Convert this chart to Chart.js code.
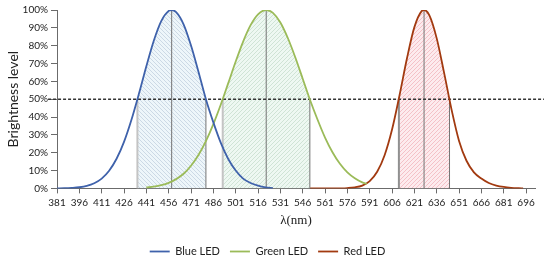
<!DOCTYPE html>
<html>
<head>
<meta charset="utf-8">
<script src="https://cdn.jsdelivr.net/npm/chart.js@4.4.1/dist/chart.umd.min.js"></script>
<style>
  html, body { margin: 0; padding: 0; background: #fff; }
</style>
</head>
<body>
<canvas id="chart" width="550" height="259"></canvas>
<script>
// wavelength tick labels (nm) and brightness ticks (%)
const xTicks = [381, 396, 411, 426, 441, 456, 471, 486, 501, 516, 531, 546, 561, 576, 591, 606, 621, 636, 651, 666, 681, 696];
const yTicks = [0, 10, 20, 30, 40, 50, 60, 70, 80, 90, 100];

// spectra
const blueNm = [381, 386, 391, 396, 401, 406, 411, 416, 421, 426, 431, 436, 441, 446, 451, 456, 458, 461, 466, 471, 476, 481, 486, 491, 496, 501, 506, 511, 516, 521, 526];
const blueVal = [0.05, 0.1, 0.3, 0.65, 1.4, 2.9, 5.5, 9.9, 16.6, 26.1, 38.5, 53, 68.5, 82.8, 93.8, 99.5, 100, 98.8, 92, 80.1, 65.4, 50, 37, 25.5, 16.5, 10, 5.5, 3, 1.5, 0.6, 0.2];

const greenNm = [441, 446, 451, 456, 461, 466, 471, 476, 481, 486, 491, 496, 501, 506, 511, 516, 521.5, 526, 531, 536, 541, 546, 551, 556, 561, 566, 571, 576, 581, 586, 589];
const greenVal = [0.5, 1, 1.8, 3.1, 5.2, 8.2, 12.7, 18.7, 26.5, 36, 47, 59, 71.1, 82.3, 91.5, 97.6, 100, 98.4, 93, 84.3, 73.5, 61.5, 49.4, 38.5, 28.5, 20.3, 13.8, 9, 5.7, 3.4, 2.6];

const redNm = [551, 556, 561, 566, 571, 576, 581, 586, 591, 596, 601, 606, 611, 616, 621, 626, 627.5, 631, 636, 641, 646, 651, 656, 661, 666, 671, 676, 681, 686, 691, 694];
const redVal = [0, 0, 0, 0, 0.05, 0.2, 0.6, 1.6, 4.1, 9.3, 18.6, 33, 52.1, 72.8, 90.4, 99.5, 100, 97.1, 84.1, 64.6, 44, 26.6, 15.5, 9, 5.5, 3, 1.6, 0.8, 0.35, 0.1, 0];

// half-maximum bounds and peaks (nm)
const blueMarks = [435, 458, 481];
const greenMarks = [492.3, 521.5, 550.8];
const redMarks = [610.6, 627.5, 644.6];
const halfLevel = 50;
const halfLineNm = [375, 708];

const ledNames = ['Blue LED', 'Green LED', 'Red LED'];
const ledColors = ['#3f62ab', '#9bbb59', '#a23a10'];

function hatch(bg, fg, up) {
  const c = document.createElement('canvas');
  c.width = c.height = 4;
  const g = c.getContext('2d');
  g.fillStyle = bg;
  g.fillRect(0, 0, 4, 4);
  g.strokeStyle = fg;
  g.lineWidth = 0.8;
  g.beginPath();
  if (up) {
    g.moveTo(-1, 5); g.lineTo(5, -1);
  } else {
    g.moveTo(-1, -1); g.lineTo(5, 5);
  }
  g.stroke();
  return g.createPattern(c, 'repeat');
}

const toPts = (nm, val) => nm.map((x, i) => ({ x, y: val[i] }));

function band(nm, val, lo, hi) {
  const pts = [{ x: lo, y: halfLevel }];
  nm.forEach((x, i) => { if (x > lo && x < hi) pts.push({ x, y: val[i] }); });
  pts.push({ x: hi, y: halfLevel });
  return pts;
}

const series = [
  { nm: blueNm, val: blueVal, marks: blueMarks, fill: hatch('#eef6fa', '#c3d2df', false), edge: '#c4c4c4' },
  { nm: greenNm, val: greenVal, marks: greenMarks, fill: hatch('#eef8f2', '#c6ddcd', true), edge: '#c4c4c4' },
  { nm: redNm, val: redVal, marks: redMarks, fill: hatch('#fdebee', '#f1b6bd', true), edge: '#909090' }
];

const datasets = [];

series.forEach((s, i) => {
  datasets.push({
    label: ledNames[i],
    data: toPts(s.nm, s.val),
    borderColor: ledColors[i],
    backgroundColor: ledColors[i],
    borderWidth: 1.8,
    pointRadius: 0,
    fill: false,
    cubicInterpolationMode: 'monotone'
  });
});

datasets.push({
  label: 'half',
  data: halfLineNm.map(x => ({ x, y: halfLevel })),
  borderColor: '#333',
  borderWidth: 1.6,
  borderDash: [3, 2],
  pointRadius: 0,
  fill: false,
  clip: false
});

series.forEach(s => {
  s.marks.forEach((x, j) => {
    const top = j === 1 ? 100 : halfLevel;
    datasets.push({
      label: 'mark',
      data: [{ x, y: 0 }, { x, y: top }],
      borderColor: j === 0 ? s.edge : '#737373',
      borderWidth: j === 0 ? 2 : 1,
      pointRadius: 0,
      fill: false
    });
  });
});

series.forEach(s => {
  datasets.push({
    label: 'band',
    data: band(s.nm, s.val, s.marks[0], s.marks[2]),
    borderWidth: 0,
    borderColor: 'rgba(0,0,0,0)',
    backgroundColor: s.fill,
    pointRadius: 0,
    fill: 'origin',
    cubicInterpolationMode: 'monotone'
  });
});

const axisColor = '#6b6b6b';
const tickFont = { family: 'Lato', size: 10 };

new Chart(document.getElementById('chart'), {
  type: 'line',
  data: { datasets },
  options: {
    responsive: false,
    animation: false,
    layout: { padding: { top: 10, right: 15, bottom: -8, left: 0 } },
    plugins: {
      tooltip: { enabled: false },
      legend: {
        position: 'bottom',
        labels: {
          filter: item => item.datasetIndex < 3,
          usePointStyle: true,
          pointStyle: 'line',
          pointStyleWidth: 20,
          padding: 10,
          color: '#222',
          font: { family: 'Lato', size: 11 }
        }
      }
    },
    scales: {
      x: {
        type: 'linear',
        min: 381,
        max: 702,
        afterBuildTicks: ax => { ax.ticks = xTicks.map(v => ({ value: v })); },
        ticks: { autoSkip: false, maxRotation: 0, color: '#222', font: tickFont, padding: 3 },
        grid: { drawOnChartArea: false, drawTicks: true, tickLength: 5, color: axisColor },
        border: { color: axisColor, width: 1 },
        title: {
          display: true,
          text: 'λ(nm)',
          color: '#222',
          font: { family: 'Liberation Serif', size: 13 },
          padding: { top: 1, bottom: 8 }
        }
      },
      y: {
        min: 0,
        max: 100,
        afterBuildTicks: ax => { ax.ticks = yTicks.map(v => ({ value: v })); },
        afterFit: ax => { ax.width = 57; },
        ticks: { color: '#222', font: tickFont, padding: 3, callback: v => v + '%' },
        grid: { drawOnChartArea: false, drawTicks: true, tickLength: 6, color: axisColor },
        border: { color: axisColor, width: 1 },
        title: {
          display: true,
          text: 'Brightness level',
          color: '#222',
          font: { family: 'Lato', size: 14 },
          padding: { top: 5, bottom: 2 }
        }
      }
    }
  }
});
</script>
</body>
</html>
